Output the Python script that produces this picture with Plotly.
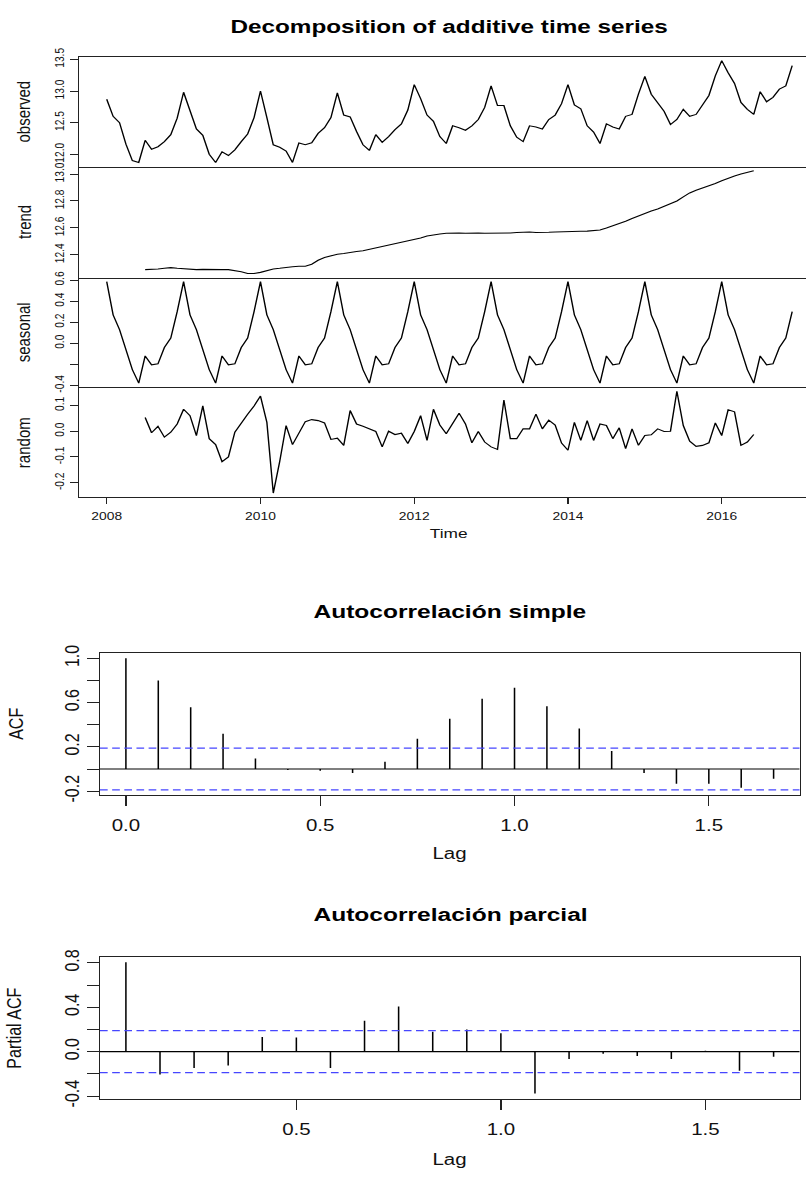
import numpy as np
import plotly.graph_objects as go

# The page is laid out at a narrower base width and widened horizontally,
# which reproduces the wide-aspect rendering of the original R graphics device.
PAGE_W, H = 806, 1182
STRETCH = 1.28
W = round(PAGE_W / STRETCH)
FONT = "Liberation Sans, Arial, sans-serif"
INK = "#111111"

# ---------------- decomposition of the monthly series (2008-01 .. 2016-12) ----------------
start_year = 2008
observed = [
    12.87, 12.60, 12.50, 12.16, 11.90, 11.87, 12.22, 12.08, 12.12, 12.20, 12.31, 12.57,
    12.98, 12.68, 12.40, 12.30, 12.00, 11.87, 12.04, 11.98, 12.07, 12.20, 12.32, 12.58,
    13.00, 12.58, 12.15, 12.11, 12.05, 11.87, 12.18, 12.15, 12.18, 12.33, 12.42, 12.58,
    12.97, 12.62, 12.59, 12.36, 12.15, 12.06, 12.31, 12.19, 12.28, 12.39, 12.48, 12.70,
    13.10, 12.88, 12.62, 12.52, 12.28, 12.17, 12.45, 12.42, 12.38, 12.45, 12.55, 12.74,
    13.08, 12.77, 12.77, 12.45, 12.27, 12.20, 12.45, 12.43, 12.40, 12.55, 12.62, 12.80,
    13.10, 12.78, 12.72, 12.45, 12.35, 12.17, 12.48, 12.43, 12.40, 12.60, 12.63, 12.95,
    13.23, 12.95, 12.82, 12.68, 12.47, 12.55, 12.71, 12.60, 12.63, 12.79, 12.93, 13.24,
    13.48, 13.29, 13.12, 12.82, 12.71, 12.63, 12.99, 12.83, 12.90, 13.03, 13.08, 13.40,
]

# centred 2x12 moving average: defined from 2008-07 to 2016-06
trend_start = 6
trend = [
    12.290, 12.290, 12.295, 12.300, 12.305, 12.300,
    12.295, 12.290, 12.290, 12.292, 12.293, 12.292, 12.290, 12.290, 12.285, 12.275, 12.262, 12.262,
    12.270, 12.285, 12.295, 12.300, 12.308, 12.312, 12.315, 12.315, 12.330, 12.360, 12.380, 12.395,
    12.405, 12.410, 12.420, 12.425, 12.430, 12.440, 12.455, 12.465, 12.475, 12.485, 12.495, 12.505,
    12.515, 12.525, 12.540, 12.550, 12.555, 12.560, 12.562, 12.562, 12.560, 12.563, 12.562, 12.560,
    12.560, 12.560, 12.560, 12.562, 12.566, 12.568, 12.570, 12.566, 12.565, 12.568, 12.570, 12.570,
    12.570, 12.572, 12.575, 12.576, 12.578, 12.585, 12.600, 12.615, 12.635, 12.650, 12.670, 12.690,
    12.710, 12.725, 12.740, 12.760, 12.780, 12.800, 12.830, 12.860, 12.880, 12.895, 12.910, 12.930,
    12.950, 12.970, 12.985, 13.000, 13.015, 13.025,
]

# monthly seasonal figure (Jan .. Dec), repeated every year by the additive decomposition
seasonal_effect = [0.585, 0.27, 0.13, -0.06, -0.25, -0.378, -0.12, -0.205, -0.195, -0.04, 0.05, 0.30]

random_part = [
    0.053, -0.006, 0.019, -0.023, -0.004, 0.028,
    0.085, 0.060, -0.017, 0.098, -0.029, -0.052, -0.118, -0.100, -0.004, 0.034, 0.066, 0.098,
    0.136, 0.034, -0.240, -0.118, 0.022, -0.052, -0.004, 0.037, 0.045, 0.041, 0.032, -0.032,
    -0.027, -0.055, 0.080, 0.028, 0.019, 0.009, -0.001, -0.061, 0.000, -0.013, -0.008, -0.048,
    -0.001, 0.060, -0.036, 0.085, 0.024, -0.010, 0.028, 0.070, 0.028, -0.045, -0.001, -0.042,
    -0.061, -0.071, 0.121, -0.029, -0.029, 0.009, 0.009, 0.066, 0.009, 0.043, 0.024, -0.046,
    -0.074, 0.034, -0.036, 0.041, -0.036, 0.028, 0.022, -0.029, 0.013, -0.068, 0.009, -0.055,
    -0.017, -0.014, 0.009, -0.001, 0.000, 0.155, 0.022, -0.039, -0.059, -0.055, -0.045, 0.032,
    -0.017, 0.083, 0.075, -0.055, -0.042, -0.013,
]

# ---------------- correlograms ----------------
n_obs = 108
acf_lags = [k / 12 for k in range(0, 21)]
acf_vals = [1.0, 0.80, 0.558, 0.318, 0.095, -0.01, -0.015, -0.036, 0.065, 0.273, 0.454,
            0.635, 0.733, 0.567, 0.365, 0.163, -0.036, -0.134, -0.134, -0.17, -0.089]
pacf_lags = [k / 12 for k in range(1, 21)]
pacf_vals = [0.805, -0.206, -0.148, -0.125, 0.131, 0.128, -0.148, 0.279, 0.407, 0.18,
             0.20, 0.166, -0.378, -0.067, -0.02, -0.04, -0.067, 0.009, -0.172, -0.047]
clim = 1.96 / np.sqrt(n_obs)

# ---------------- helpers ----------------
def py(p):
    """page pixel row -> paper y"""
    return 1 - p / H

def px(p):
    """page pixel column -> paper x"""
    return p / PAGE_W

def padded(lo, hi, frac=0.04):
    d = (hi - lo) * frac
    return [lo - d, hi + d]

t_all = [start_year + m / 12 for m in range(len(observed))]
t_trend = [start_year + (trend_start + i) / 12 for i in range(len(trend))]
seasonal = list(np.tile(seasonal_effect, len(observed) // 12))

t0, t1 = t_all[0], t_all[-1]
x_lo = t0 - 0.04 * (t1 - t0)
px_per_year = 76.875          # page pixels per year
x_left_px = 79.3              # left edge of the panels, page pixels
x_hi = x_lo + (PAGE_W - x_left_px) / px_per_year

fig = go.Figure()
line_style = dict(color="black", width=1.1)
FRAME = "#222222"

panels = [
    ("observed", t_all, observed, (48.3, 160.0), [12.0, 12.5, 13.0, 13.5], ["12.0", "12.5", "13.0", "13.5"]),
    ("trend", t_trend, trend, (160.0, 272.7), [12.4, 12.6, 12.8, 13.0], ["12.4", "12.6", "12.8", "13.0"]),
    ("seasonal", t_all, seasonal, (272.7, 384.0), [-0.4, -0.2, 0.0, 0.2, 0.4, 0.6], ["-0.4", "", "0.0", "0.2", "0.4", "0.6"]),
    ("random", t_trend, random_part, (384.0, 495.7), [-0.2, -0.1, 0.0, 0.1], ["-0.2", "-0.1", "0.0", "0.1"]),
]

layout = dict(
    width=W, height=H, margin=dict(l=0, r=0, t=0, b=0),
    paper_bgcolor="white", plot_bgcolor="white", showlegend=False,
    font=dict(family=FONT, color=INK),
)
annotations = []

for i, (name, xs, ys, (top, bot), tv, tt) in enumerate(panels, start=1):
    fig.add_trace(go.Scatter(x=xs, y=ys, mode="lines", line=line_style,
                             xaxis=f"x{i}", yaxis=f"y{i}", hoverinfo="skip"))
    last = i == len(panels)
    layout[f"xaxis{i}"] = dict(
        domain=[px(x_left_px), 1], range=[x_lo, x_hi], anchor=f"y{i}",
        showgrid=False, zeroline=False, showline=True, mirror=(i == 1),
        linecolor=FRAME, linewidth=1,
        tickmode="array", tickvals=[2008, 2010, 2012, 2014, 2016],
        ticktext=["2008", "2010", "2012", "2014", "2016"],
        ticks="outside" if last else "", ticklen=6, tickcolor=FRAME,
        ticklabelstandoff=3,
        showticklabels=last, tickfont=dict(size=10.8, family=FONT, color=INK),
    )
    layout[f"yaxis{i}"] = dict(
        domain=[py(bot), py(top)], range=padded(min(ys), max(ys)), anchor=f"x{i}",
        showgrid=False, zeroline=False, showline=True, mirror=False,
        linecolor=FRAME, linewidth=1,
        tickmode="array", tickvals=tv, ticktext=tt,
        ticks="outside", ticklen=6.5, tickcolor=FRAME, tickangle=-90,
        tickfont=dict(size=10.2, family=FONT, color=INK),
    )
    annotations.append(dict(text=name, x=px(23), y=py((top + bot) / 2), xref="paper", yref="paper",
                            textangle=-90, showarrow=False, xanchor="center", yanchor="middle",
                            font=dict(size=15, family=FONT, color=INK)))

annotations.append(dict(text="<b>Decomposition of additive time series</b>", x=px(449.5), y=py(18),
                        xref="paper", yref="paper", showarrow=False, xanchor="center", yanchor="middle",
                        font=dict(size=19, family=FONT, color="black")))
annotations.append(dict(text="Time", x=px(449.5), y=py(533), xref="paper", yref="paper",
                        showarrow=False, xanchor="center", yanchor="middle",
                        font=dict(size=13.5, family=FONT, color=INK)))

# ---------------- correlogram panels ----------------
def spikes(lags, vals):
    xs, ys = [], []
    for lag, v in zip(lags, vals):
        xs += [lag, lag, None]
        ys += [0, v, None]
    return xs, ys

shapes = []
corr_panels = [
    (5, "Autocorrelación simple", "ACF", acf_lags, acf_vals, (654.0, 798.3), 612, 858,
     [-0.2, 0.0, 0.2, 0.4, 0.6, 0.8, 1.0], ["-0.2", "", "0.2", "", "0.6", "", "1.0"],
     [0.0, 0.5, 1.0, 1.5]),
    (6, "Autocorrelación parcial", "Partial ACF", pacf_lags, pacf_vals, (962.7, 1106.7), 920, 1168,
     [-0.4, -0.2, 0.0, 0.2, 0.4, 0.6, 0.8], ["-0.4", "", "0.0", "", "0.4", "", "0.8"],
     [0.5, 1.0, 1.5]),
]

for k, title, ylab, lags, vals, (top, bot), ty, lab_y, tv, tt, xtv in corr_panels:
    xs, ys = spikes(lags, vals)
    fig.add_trace(go.Scatter(x=xs, y=ys, mode="lines", line=dict(color="black", width=1.2),
                             xaxis=f"x{k}", yaxis=f"y{k}", hoverinfo="skip"))
    layout[f"xaxis{k}"] = dict(
        domain=[px(100), px(799.5)], range=padded(lags[0], lags[-1]), anchor=f"y{k}",
        showgrid=False, zeroline=False, showline=True, mirror=True,
        linecolor=FRAME, linewidth=1,
        tickmode="array", tickvals=xtv, ticktext=[f"{v:.1f}" for v in xtv],
        ticks="outside", ticklen=10, tickcolor=FRAME, ticklabelstandoff=6,
        tickfont=dict(size=16, family=FONT, color=INK),
    )
    layout[f"yaxis{k}"] = dict(
        domain=[py(bot), py(top)],
        range=padded(min(min(vals), -clim), max(max(vals), clim)), anchor=f"x{k}",
        showgrid=False, zeroline=False, showline=True, mirror=True,
        linecolor=FRAME, linewidth=1,
        tickmode="array", tickvals=tv, ticktext=tt,
        ticks="outside", ticklen=9, tickcolor=FRAME, tickangle=-90,
        tickfont=dict(size=16, family=FONT, color=INK),
    )
    shapes.append(dict(type="line", xref=f"x{k} domain", yref=f"y{k}", x0=0, x1=1, y0=0, y1=0,
                       line=dict(color="black", width=1.1)))
    for c in (clim, -clim):
        shapes.append(dict(type="line", xref=f"x{k} domain", yref=f"y{k}", x0=0, x1=1, y0=c, y1=c,
                           line=dict(color="#4646ff", width=1.3, dash="6px,3.5px")))
    annotations.append(dict(text=f"<b>{title}</b>", x=px(450), y=py(ty), xref="paper", yref="paper",
                            showarrow=False, xanchor="center", yanchor="middle",
                            font=dict(size=19.2, family=FONT, color="black")))
    annotations.append(dict(text=ylab, x=px(15), y=py((top + bot) / 2), xref="paper", yref="paper",
                            textangle=-90, showarrow=False, xanchor="center", yanchor="middle",
                            font=dict(size=16, family=FONT, color=INK)))
    annotations.append(dict(text="Lag", x=px(450), y=py(lab_y), xref="paper", yref="paper",
                            showarrow=False, xanchor="center", yanchor="middle",
                            font=dict(size=16, family=FONT, color=INK)))

layout["annotations"] = annotations
layout["shapes"] = shapes
fig.update_layout(**layout)

widen = (
    "var gd = document.getElementById('{plot_id}');"
    "document.body.style.margin = '0';"
    "document.body.style.overflow = 'hidden';"
    "gd.style.transformOrigin = '0 0';"
    f"gd.style.transform = 'scaleX({PAGE_W / W:.5f})';"
)
fig.write_html("out.html", post_script=widen)
